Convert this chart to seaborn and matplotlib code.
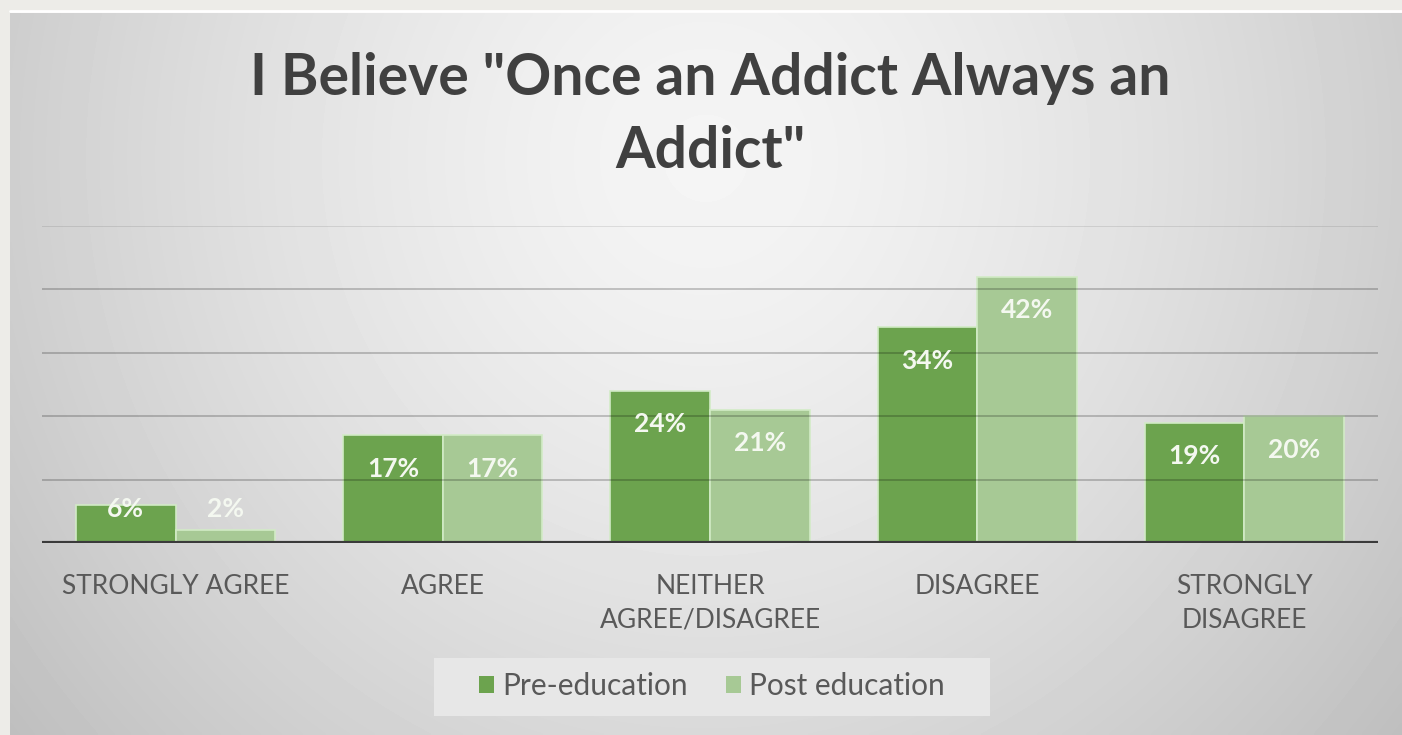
import numpy as np
import pandas as pd
import matplotlib
matplotlib.use("Agg")
import matplotlib.pyplot as plt
import matplotlib.patches as mpatches
import seaborn as sns

categories = ["STRONGLY AGREE", "AGREE", "NEITHER\nAGREE/DISAGREE", "DISAGREE", "STRONGLY\nDISAGREE"]
series_names = ["Pre-education", "Post education"]
pre_values = [6, 17, 24, 34, 19]
post_values = [2, 17, 21, 42, 20]
title_text = 'I Believe "Once an Addict Always an\nAddict"'

df = pd.DataFrame({
    "category": categories * 2,
    "series": [series_names[0]] * len(categories) + [series_names[1]] * len(categories),
    "value": pre_values + post_values,
})

sns.set_theme(style="white")
plt.rcParams["font.family"] = ["Lato", "DejaVu Sans"]

W, H = 1402, 735
fig = plt.figure(figsize=(W / 100, H / 100), dpi=100)
fig.patch.set_facecolor("#EDECE8")

# gradient background panel
bg = fig.add_axes([10 / W, 0, 1 - 10 / W, 1 - 13 / H])
bg.set_axis_off()
nx, ny = 400, 220
xx, yy = np.meshgrid(np.linspace(0, 1, nx), np.linspace(0, 1, ny))
r = np.sqrt(((xx - 0.5) / 0.5) ** 2 + ((yy - 0.2) / 1.0) ** 2)
val = np.clip(0.96 - 0.15 * r ** 1.4, 0, 1)
bg.imshow(val, cmap="gray", vmin=0, vmax=1, aspect="auto", extent=[0, 1, 1, 0], interpolation="bilinear")
bg.set_xlim(0, 1); bg.set_ylim(1, 0)
fig.add_artist(plt.Line2D([10 / W, 1], [1 - 11 / H, 1 - 11 / H], color="white", lw=2, transform=fig.transFigure))

ax_left, ax_right = 42, 1378
ax_top, ax_bot = 226, 543
ax = fig.add_axes([ax_left / W, 1 - ax_bot / H, (ax_right - ax_left) / W, (ax_bot - ax_top) / H])
ax.set_facecolor("none")

colors = ["#6CA34E", "#A7C995"]
sns.barplot(data=df, x="category", y="value", hue="series", order=categories,
            hue_order=series_names, palette=colors, width=0.745, gap=0,
            edgecolor="#D2EBC6", linewidth=1.2, saturation=1, ax=ax, zorder=2)

ax.set_xlim(-0.5, len(categories) - 0.5)
ax.set_ylim(0, 50)
ax.set_yticks([10, 20, 30, 40, 50])
for yv in [10, 20, 30, 40]:
    ax.axhline(yv, color="#000000", alpha=0.22, lw=1.3, zorder=3)
ax.axhline(50, color="#000000", alpha=0.10, lw=1.3, zorder=3)
ax.axhline(0, color="#3A3A3A", lw=3, zorder=4)
for s in ax.spines.values():
    s.set_visible(False)
ax.set_yticklabels([])
ax.tick_params(axis="y", length=0)
ax.tick_params(axis="x", length=0, pad=22)
ax.set_xlabel(""); ax.set_ylabel("")
for lab in ax.get_xticklabels():
    lab.set_fontsize(19)
    lab.set_color("#595959")
    lab.set_linespacing(1.45)
    lab.set_verticalalignment("top")

# data labels inside end
for cont, vals in zip(ax.containers, [pre_values, post_values]):
    for patch, v in zip(cont, vals):
        xc = patch.get_x() + patch.get_width() / 2
        yl = max(patch.get_height() - 5.3, 5.4)
        ax.text(xc, yl, f"{v}%", ha="center", va="center", color="#F4F8F0",
                fontsize=19, fontweight="bold", zorder=5)

# legend
handles, labels = ax.get_legend_handles_labels()
ax.get_legend().remove()
leg = fig.legend(handles, labels, loc="center", bbox_to_anchor=(712 / W, 1 - 686 / H),
                 ncol=2, frameon=False, fontsize=21.5, handlelength=0.48, handleheight=0.48,
                 handletextpad=0.28, columnspacing=1.3, borderpad=0.3)
for t in leg.get_texts():
    t.set_color("#595959")
for h in leg.legend_handles:
    h.set_edgecolor("none")
fig.canvas.draw()
bb = leg.get_window_extent()
box = mpatches.Rectangle(((bb.x0 - 36) / W, 19 / H), (bb.width + 72) / W, 58 / H,
                         transform=fig.transFigure, facecolor="#E7E7E7", edgecolor="none", zorder=0.5)
fig.add_artist(box)
leg.set_zorder(5)

fig.text(710 / W, 1 - 115 / H, title_text, ha="center", va="center", fontsize=41,
         fontweight="bold", color="#404040", linespacing=1.47)

fig.savefig("out.png", dpi=100)
